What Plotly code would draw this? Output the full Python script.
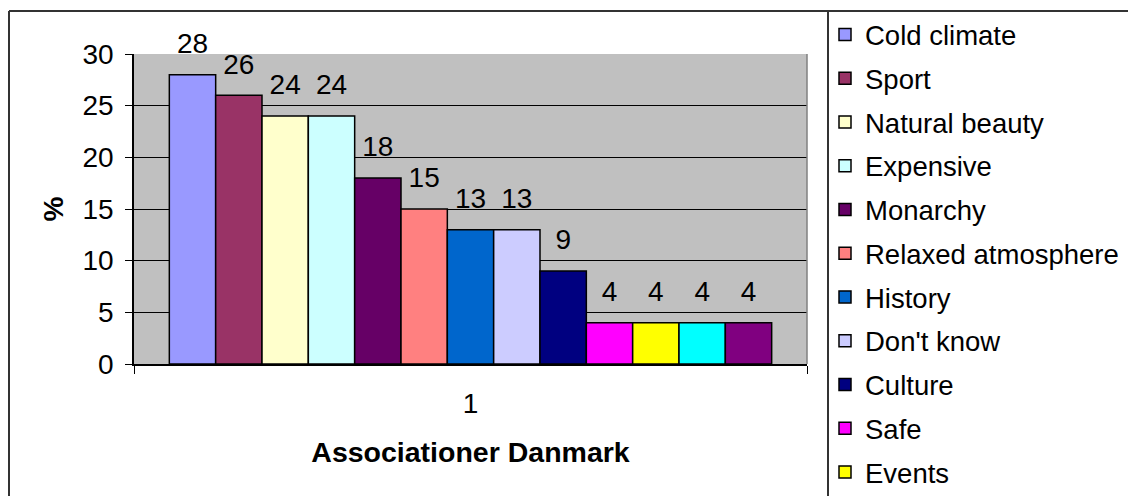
import plotly.graph_objects as go

CATEGORY = ['1']
NAMES = ['Cold climate', 'Sport', 'Natural beauty', 'Expensive', 'Monarchy',
         'Relaxed atmosphere', 'History', "Don't know", 'Culture', 'Safe',
         'Events', 'Series 12', 'Series 13']
VALUES = [28, 26, 24, 24, 18, 15, 13, 13, 9, 4, 4, 4, 4]
COLORS = ['#9999FF', '#993366', '#FFFFCC', '#CCFFFF', '#660066', '#FF8080',
          '#0066CC', '#CCCCFF', '#000080', '#FF00FF', '#FFFF00', '#00FFFF',
          '#800080']
LEGEND_SHOWN = 11  # the legend is cut off by the frame after "Events"

FONT = 'Arial, Liberation Sans, sans-serif'
FS = 28

# plot area in pixels, used only to place the frame lines
L, R, T, B = 134, 807, 54, 364
W, H = R - L, B - T


def px(x):
    return (x - L) / W


def py(y):
    return (B - y) / H


fig = go.Figure()
for i, (name, val, col) in enumerate(zip(NAMES, VALUES, COLORS)):
    fig.add_trace(go.Bar(
        x=CATEGORY, y=[val], name=name, offsetgroup=str(i), legendgroup=name,
        marker=dict(color=col, line=dict(color='black', width=1.5)),
        showlegend=i < LEGEND_SHOWN, hoverinfo='name+y',
    ))
    # value label, lifted a little above the bar like Excel does
    fig.add_trace(go.Scatter(
        x=CATEGORY, y=[val], mode='markers+text', text=[val],
        textposition='top center', offsetgroup=str(i), showlegend=False,
        marker=dict(size=22, opacity=0), cliponaxis=False, hoverinfo='skip',
        textfont=dict(size=FS, color='black', family=FONT),
    ))

frame = dict(type='line', xref='paper', yref='paper',
             line=dict(color='#333333', width=2))
fig.add_shape(x0=px(9), x1=px(1130), y0=py(11), y1=py(11), **frame)
fig.add_shape(x0=px(9), x1=px(9), y0=py(11), y1=py(500), **frame)
fig.add_shape(x0=px(828), x1=px(828), y0=py(11), y1=py(500), **frame)
# right edge of plot area
fig.add_shape(type='line', xref='paper', yref='paper', x0=1, x1=1, y0=0, y1=1,
              line=dict(color='#808080', width=1.5))

fig.update_layout(
    width=1128, height=496,
    margin=dict(l=L, r=1128 - R, t=T, b=496 - B),
    paper_bgcolor='white', plot_bgcolor='#C0C0C0',
    font=dict(family=FONT, size=FS, color='black'),
    barmode='group', bargap=0.105, bargroupgap=0,
    scattermode='group', scattergap=0.105,
    legend=dict(xref='container', yref='container', x=825 / 1128, y=1 - 10 / 496,
                xanchor='left', yanchor='top', font=dict(size=27.5),
                bgcolor='rgba(0,0,0,0)', traceorder='grouped',
                tracegroupgap=5, maxheight=1),
)
fig.update_xaxes(
    type='category', tickson='boundaries', ticks='outside', ticklen=8,
    tickcolor='black', showline=True, linecolor='black', linewidth=1.5,
    ticklabelstandoff=14, showgrid=False,
    title=dict(text='<b>Associationer Danmark</b>', standoff=24,
               font=dict(size=28.5)),
)
fig.update_yaxes(
    range=[0, 30], dtick=5, ticks='outside', ticklen=7, tickcolor='black',
    showline=True, linecolor='black', linewidth=1.5, ticklabelstandoff=6,
    showgrid=True, gridcolor='black', gridwidth=1, zeroline=False,
    title=dict(text='<b>%</b>', standoff=11, font=dict(size=28)),
)

fig.write_html('out.html', config={'displayModeBar': False},
               post_script="document.body.style.margin='0';")
